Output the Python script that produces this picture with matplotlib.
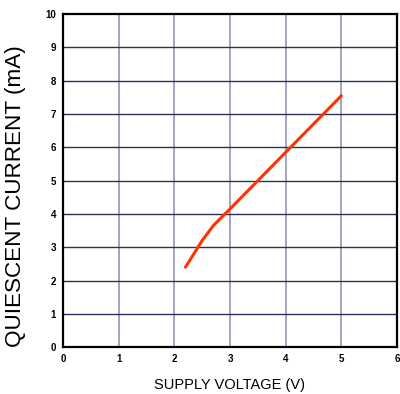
import matplotlib
matplotlib.use("Agg")
import matplotlib.pyplot as plt

voltage = [2.2, 2.35, 2.5, 2.7, 2.85, 3.0, 3.5, 4.0, 4.5, 5.0]
current = [2.4, 2.8, 3.2, 3.65, 3.9, 4.15, 5.0, 5.85, 6.7, 7.55]
xticks = [0, 1, 2, 3, 4, 5, 6]
yticks = [0, 1, 2, 3, 4, 5, 6, 7, 8, 9, 10]

plt.rcParams['font.family'] = ['Liberation Sans', 'DejaVu Sans']

fig = plt.figure(figsize=(4.0, 3.94), dpi=100)
ax = fig.add_axes([0.1575, 0.119, 0.835, 0.845])

ax.set_xlim(0, 6)
ax.set_ylim(0, 10)
ax.set_xticks(xticks)
ax.set_yticks(yticks)
ax.set_xticklabels([str(t) for t in xticks], fontsize=7, fontweight='bold')
ax.set_yticklabels([str(t) for t in yticks], fontsize=7, fontweight='bold')
ax.tick_params(length=0, pad=5)

for x in xticks[1:-1]:
    ax.axvline(x, color='#8c8ca8', lw=1.1, zorder=1)
for y in yticks[1:-1]:
    ax.axhline(y, color='#2e2e5c', lw=1.0, zorder=1)

ax.plot(voltage, current, color='#ff3300', lw=2.2, solid_capstyle='round', zorder=3)

for s in ax.spines.values():
    s.set_linewidth(1.6)
    s.set_color('black')

ax.set_xlabel('SUPPLY VOLTAGE (V)', fontsize=10.5, labelpad=10)
fig.text(0.04, 0.5025, 'QUIESCENT CURRENT (mA)', fontsize=16.2,
         rotation=90, ha='center', va='center')

fig.savefig('out.png', dpi=100)
